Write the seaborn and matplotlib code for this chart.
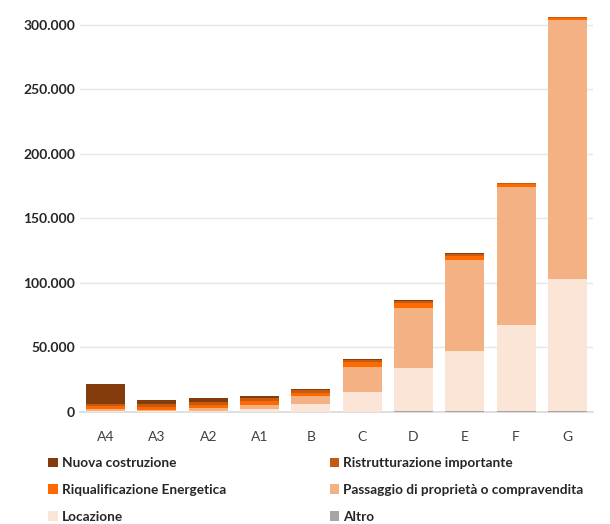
import matplotlib
matplotlib.use("Agg")
import matplotlib.pyplot as plt
from matplotlib.patches import Patch
from matplotlib.ticker import FuncFormatter
import numpy as np
import pandas as pd
import seaborn as sns

# Energy classes and number of certificates by reason of issue
classi = ["A4", "A3", "A2", "A1", "B", "C", "D", "E", "F", "G"]
altro = [200, 100, 100, 150, 200, 300, 800, 800, 800, 800]
locazione = [800, 600, 1000, 2000, 5800, 15500, 33300, 46500, 66700, 102300]
passaggio = [1300, 1200, 2000, 3500, 6500, 19400, 46500, 70200, 107000, 200800]
riqualificazione = [2200, 2200, 2500, 2800, 2500, 3300, 3500, 3500, 2000, 1700]
ristrutturazione = [1800, 2000, 2500, 2500, 1800, 2000, 1800, 1500, 800, 600]
nuova = [15500, 3500, 3000, 1800, 1200, 800, 600, 500, 200, 200]

serie = [
    ("Altro", altro, "#A5A5A5"),
    ("Locazione", locazione, "#FBE5D6"),
    ("Passaggio di proprietà o compravendita", passaggio, "#F4B183"),
    ("Riqualificazione Energetica", riqualificazione, "#FF6A00"),
    ("Ristrutturazione importante", ristrutturazione, "#C55A11"),
    ("Nuova costruzione", nuova, "#843C0C"),
]

sns.set_theme(style="white")
plt.rcParams["font.family"] = ["Lato", "DejaVu Sans"]

fig = plt.figure(figsize=(6.10, 5.24), dpi=100)
ax = fig.add_axes([80 / 610, 112 / 524, 513 / 610, 400 / 524])

# stacked bars: draw cumulative totals from the top layer down
cum = np.cumsum(np.array([s[1] for s in serie]), axis=0)
for i in range(len(serie) - 1, -1, -1):
    df = pd.DataFrame({"classe": classi, "valore": cum[i]})
    sns.barplot(data=df, x="classe", y="valore", color=serie[i][2],
                saturation=1, width=0.76, linewidth=0, ax=ax, zorder=3)

ax.set_ylim(0, 310000)
ax.set_xlim(-0.5, 9.5)
ax.set_yticks(np.arange(0, 300001, 50000))
ax.yaxis.set_major_formatter(FuncFormatter(lambda v, p: f"{int(v):,}".replace(",", ".")))
ax.grid(axis="y", color="#E6E6E6", linewidth=1, zorder=0)
ax.set_axisbelow(True)
for s in ["top", "right", "left"]:
    ax.spines[s].set_visible(False)
ax.spines["bottom"].set_color("#D9D9D9")
ax.spines["bottom"].set_linewidth(1.2)
ax.set_xlabel("")
ax.set_ylabel("")
ax.tick_params(axis="both", length=0, labelsize=10, labelcolor="#404040")
ax.tick_params(axis="x", pad=14)
for lab in ax.get_yticklabels():
    lab.set_fontweight("bold")
    lab.set_color("#262626")

# legend, row-major in two columns
ordine = [5, 3, 1, 4, 2, 0]
handles = [Patch(facecolor=serie[k][2], edgecolor="none") for k in ordine]
labels = [serie[k][0] for k in ordine]
leg = fig.legend(handles, labels, ncol=2, loc="upper left",
                 bbox_to_anchor=(36 / 610, 1 - 445 / 524),
                 frameon=False, handlelength=0.7, handleheight=0.7,
                 handletextpad=0.3, columnspacing=7.6, labelspacing=1.08,
                 prop={"size": 9.8, "weight": "bold"})
for t in leg.get_texts():
    t.set_color("#262626")

fig.savefig("out.png", dpi=100)
